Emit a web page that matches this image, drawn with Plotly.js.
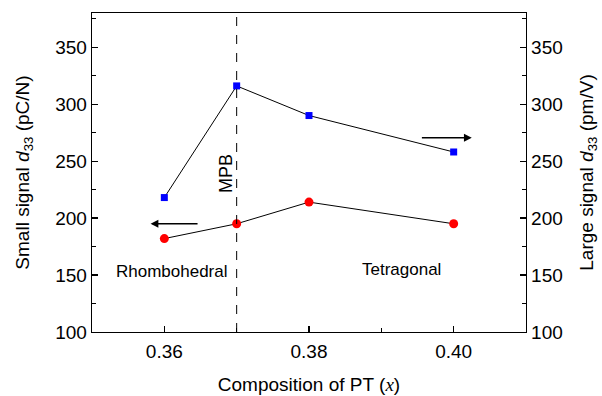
<!DOCTYPE html>
<html><head><meta charset="utf-8">
<script src="https://cdn.plot.ly/plotly-3.0.1.min.js"></script>
<style>body{margin:0;padding:0;background:#fff}#c{width:602px;height:396px}</style>
</head><body><div id="c"></div>
<script>
const composition = [0.36, 0.37, 0.38, 0.40];
const smallSignalD33 = [182, 195, 214, 195];
const largeSignalD33 = [218, 316, 290, 258];
const xTicks = [0.36, 0.38, 0.40];
const xTickLabels = ['0.36', '0.38', '0.40'];
const mpb = 0.37;

const fam = 'Liberation Sans, Arial, sans-serif';
const tickFont = {family: fam, size: 19, color: '#000'};
const titleFont = {family: fam, size: 19, color: '#000'};
const annFont = {family: fam, size: 17, color: '#000'};
const traces = [
  {x: composition, y: smallSignalD33, mode: 'lines+markers', yaxis: 'y',
   line: {color: '#000', width: 1}, marker: {color: '#ff0000', symbol: 'circle', size: 9}},
  {x: composition, y: largeSignalD33, mode: 'lines+markers', yaxis: 'y2',
   line: {color: '#000', width: 1}, marker: {color: '#0000ff', symbol: 'square', size: 7}}
];
const axBase = {showline: true, linecolor: '#000', linewidth: 1.3, ticks: 'inside', ticklen: 6,
  tickcolor: '#000', tickwidth: 1.2, showgrid: false, zeroline: false, tickfont: tickFont};
const layout = {
  width: 602, height: 396, margin: {l: 92, r: 76, t: 13, b: 64},
  paper_bgcolor: '#fff', plot_bgcolor: '#fff', showlegend: false, font: tickFont,
  xaxis: Object.assign({}, axBase, {range: [0.35, 0.41], tickvals: xTicks, ticktext: xTickLabels, mirror: true,
    ticklabelstandoff: 2,
    minor: {dtick: 0.01, tick0: 0.35, ticks: 'inside', ticklen: 4, tickcolor: '#000'},
    title: {text: 'Composition of PT (<span style="font-family:Liberation Serif,serif"><i>x</i></span>)', font: titleFont, standoff: 16}}),
  yaxis: Object.assign({}, axBase, {range: [100, 380], dtick: 50, tick0: 100,
    minor: {dtick: 25, ticks: 'inside', ticklen: 4, tickcolor: '#000'},
    title: {text: 'Small signal <i>d</i><sub>33</sub> (pC/N)', font: titleFont, standoff: 20}}),
  yaxis2: Object.assign({}, axBase, {range: [100, 380], dtick: 50, tick0: 100, overlaying: 'y', side: 'right',
    minor: {dtick: 25, ticks: 'inside', ticklen: 4, tickcolor: '#000'},
    title: {text: 'Large signal <i>d</i><sub>33</sub> (pm/V)', font: titleFont, standoff: 18}}),
  shapes: [{type: 'line', xref: 'x', yref: 'paper', x0: mpb, x1: mpb, y0: 0, y1: 1,
    line: {color: '#000', width: 1, dash: 'dash'}}],
  annotations: [
    {xref: 'x', yref: 'y', x: 0.3581, y: 195, axref: 'x', ayref: 'y', ax: 0.3648, ay: 195,
     showarrow: true, arrowhead: 2, arrowsize: 1.2, arrowwidth: 1.3, arrowcolor: '#000', text: ''},
    {xref: 'x', yref: 'y', x: 0.4025, y: 270.5, axref: 'x', ayref: 'y', ax: 0.3954, ay: 270.5,
     showarrow: true, arrowhead: 2, arrowsize: 1.2, arrowwidth: 1.3, arrowcolor: '#000', text: ''},
    {xref: 'x', yref: 'y', x: 0.3701, y: 239, text: 'MPB', textangle: -90, showarrow: false,
     xanchor: 'right', font: {family: fam, size: 18, color: '#000'}},
    {xref: 'x', yref: 'y', x: 0.3611, y: 153, text: 'Rhombohedral', showarrow: false, font: annFont},
    {xref: 'x', yref: 'y', x: 0.3928, y: 155, text: 'Tetragonal', showarrow: false, font: annFont}
  ]
};
Plotly.newPlot('c', traces, layout, {displayModeBar: false, staticPlot: true});
</script></body></html>
